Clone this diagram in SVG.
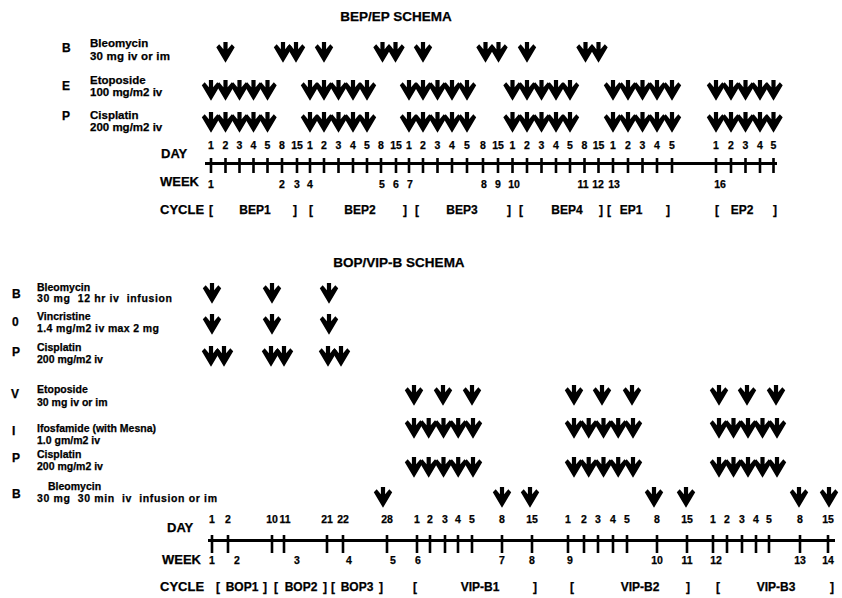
<svg xmlns="http://www.w3.org/2000/svg" width="842" height="598" viewBox="0 0 842 598">
<style>
text{font-family:"Liberation Sans",Arial,Helvetica,sans-serif;font-weight:bold;fill:#000;stroke:#000;stroke-width:0.25}
.ttl{font-size:13.5px;text-anchor:middle}
.lt{font-size:11.5px}
.lb{font-size:10.5px}
.ltr{font-size:12px}
.ax{font-size:13px}
.n{font-size:10.5px;text-anchor:middle}
.cy{font-size:12px;text-anchor:middle}
.line{stroke:#000;stroke-width:3;fill:none}
.tick{stroke:#000;stroke-width:2.6;fill:none}
</style>
<defs>
<path id="ar" d="M-2.1,0 H2.1 V7.2 L6.3,2.3 L9.2,5.3 L0,20.8 L-9.2,5.3 L-6.3,2.3 L-2.1,7.2 Z" fill="#000"/>
</defs>
<rect width="842" height="598" fill="#fff"/>

<!-- ===== BEP/EP ===== -->
<g id="title-bep"><text class="ttl" x="396" y="21">BEP/EP SCHEMA</text></g>

<g id="bep-label-B">
<text class="ltr" x="62" y="52">B</text>
<text class="lt" x="90" y="47">Bleomycin</text>
<text class="lt" x="90" y="60" textLength="80" lengthAdjust="spacing">30 mg iv or im</text>
</g>
<g id="bep-label-E">
<text class="ltr" x="62" y="90">E</text>
<text class="lt" x="90" y="84">Etoposide</text>
<text class="lt" x="90" y="96">100 mg/m2 iv</text>
</g>
<g id="bep-label-P">
<text class="ltr" x="62" y="120">P</text>
<text class="lt" x="90" y="119">Cisplatin</text>
<text class="lt" x="90" y="131">200 mg/m2 iv</text>
</g>

<g id="bep-arrows-B">
<use href="#ar" x="225.5" y="42"/>
<use href="#ar" x="283" y="42"/><use href="#ar" x="296" y="42"/>
<use href="#ar" x="324" y="42"/>
<use href="#ar" x="382.5" y="42"/><use href="#ar" x="395.5" y="42"/>
<use href="#ar" x="423" y="42"/>
<use href="#ar" x="485.5" y="42"/><use href="#ar" x="498.5" y="42"/>
<use href="#ar" x="527" y="42"/>
<use href="#ar" x="585.5" y="42"/><use href="#ar" x="598.5" y="42"/>
</g>
<g id="bep-arrows-E">
<use href="#ar" x="211" y="80"/><use href="#ar" x="225.5" y="80"/><use href="#ar" x="239.5" y="80"/><use href="#ar" x="253.5" y="80"/><use href="#ar" x="267.5" y="80"/>
<use href="#ar" x="310" y="80"/><use href="#ar" x="324" y="80"/><use href="#ar" x="338.5" y="80"/><use href="#ar" x="353" y="80"/><use href="#ar" x="367" y="80"/>
<use href="#ar" x="409" y="80"/><use href="#ar" x="423" y="80"/><use href="#ar" x="437.5" y="80"/><use href="#ar" x="452" y="80"/><use href="#ar" x="467" y="80"/>
<use href="#ar" x="512.5" y="80"/><use href="#ar" x="527" y="80"/><use href="#ar" x="541.5" y="80"/><use href="#ar" x="556" y="80"/><use href="#ar" x="570" y="80"/>
<use href="#ar" x="613" y="80"/><use href="#ar" x="628" y="80"/><use href="#ar" x="642.5" y="80"/><use href="#ar" x="657" y="80"/><use href="#ar" x="672" y="80"/>
<use href="#ar" x="716" y="80"/><use href="#ar" x="731" y="80"/><use href="#ar" x="745.5" y="80"/><use href="#ar" x="760" y="80"/><use href="#ar" x="773.5" y="80"/>
</g>
<g id="bep-arrows-P">
<use href="#ar" x="211" y="112"/><use href="#ar" x="225.5" y="112"/><use href="#ar" x="239.5" y="112"/><use href="#ar" x="253.5" y="112"/><use href="#ar" x="267.5" y="112"/>
<use href="#ar" x="310" y="112"/><use href="#ar" x="324" y="112"/><use href="#ar" x="338.5" y="112"/><use href="#ar" x="353" y="112"/><use href="#ar" x="367" y="112"/>
<use href="#ar" x="409" y="112"/><use href="#ar" x="423" y="112"/><use href="#ar" x="437.5" y="112"/><use href="#ar" x="452" y="112"/><use href="#ar" x="467" y="112"/>
<use href="#ar" x="512.5" y="112"/><use href="#ar" x="527" y="112"/><use href="#ar" x="541.5" y="112"/><use href="#ar" x="556" y="112"/><use href="#ar" x="570" y="112"/>
<use href="#ar" x="613" y="112"/><use href="#ar" x="628" y="112"/><use href="#ar" x="642.5" y="112"/><use href="#ar" x="657" y="112"/><use href="#ar" x="672" y="112"/>
<use href="#ar" x="716" y="112"/><use href="#ar" x="731" y="112"/><use href="#ar" x="745.5" y="112"/><use href="#ar" x="760" y="112"/><use href="#ar" x="773.5" y="112"/>
</g>

<g id="bep-timeline">
<text class="ax" x="161" y="158">DAY</text>
<text class="ax" x="160" y="186">WEEK</text>
<text class="ax" x="160" y="214">CYCLE</text>
<path class="line" d="M205,163.5 H777"/>
<path class="tick" d="M211,158V173 M225.5,158V173 M239.5,158V173 M253.5,158V173 M267.5,158V173 M282,158V173 M297,158V173 M310,158V173 M324,158V173 M338.5,158V173 M353,158V173 M367,158V173 M381,158V173 M396,158V173 M409,158V173 M423,158V173 M437.5,158V173 M452,158V173 M467,158V173 M483,158V173 M498,158V173 M512.5,158V173 M527,158V173 M541.5,158V173 M556,158V173 M570,158V173 M584.5,158V173 M598.5,158V173 M613,158V173 M628,158V173 M642.5,158V173 M657,158V173 M672,158V173 M716,158V173 M731,158V173 M745.5,158V173 M760,158V173 M773.5,158V173"/>
<g class="days">
<text class="n" x="211" y="149">1</text><text class="n" x="225.5" y="149">2</text><text class="n" x="239.5" y="149">3</text><text class="n" x="253.5" y="149">4</text><text class="n" x="267.5" y="149">5</text><text class="n" x="282" y="149">8</text><text class="n" x="297" y="149">15</text>
<text class="n" x="310" y="149">1</text><text class="n" x="324" y="149">2</text><text class="n" x="338.5" y="149">3</text><text class="n" x="353" y="149">4</text><text class="n" x="367" y="149">5</text><text class="n" x="381" y="149">8</text><text class="n" x="396" y="149">15</text>
<text class="n" x="409" y="149">1</text><text class="n" x="423" y="149">2</text><text class="n" x="437.5" y="149">3</text><text class="n" x="452" y="149">4</text><text class="n" x="467" y="149">5</text><text class="n" x="483" y="149">8</text><text class="n" x="498" y="149">15</text>
<text class="n" x="512.5" y="149">1</text><text class="n" x="527" y="149">2</text><text class="n" x="541.5" y="149">3</text><text class="n" x="556" y="149">4</text><text class="n" x="570" y="149">5</text><text class="n" x="584.5" y="149">8</text><text class="n" x="598.5" y="149">15</text>
<text class="n" x="613" y="149">1</text><text class="n" x="628" y="149">2</text><text class="n" x="642.5" y="149">3</text><text class="n" x="657" y="149">4</text><text class="n" x="672" y="149">5</text>
<text class="n" x="716" y="149">1</text><text class="n" x="731" y="149">2</text><text class="n" x="745.5" y="149">3</text><text class="n" x="760" y="149">4</text><text class="n" x="773.5" y="149">5</text>
</g>
<g class="weeks">
<text class="n" x="211" y="188">1</text>
<text class="n" x="282" y="188">2</text><text class="n" x="297" y="188">3</text><text class="n" x="310" y="188">4</text>
<text class="n" x="382" y="188">5</text><text class="n" x="396" y="188">6</text><text class="n" x="410" y="188">7</text>
<text class="n" x="484" y="188">8</text><text class="n" x="498" y="188">9</text><text class="n" x="514" y="188">10</text>
<text class="n" x="583" y="188">11</text><text class="n" x="598" y="188">12</text><text class="n" x="614" y="188">13</text>
<text class="n" x="720" y="188">16</text>
</g>
<g class="cycles">
<text class="cy" x="211" y="214">[</text><text class="cy" x="255" y="214">BEP1</text><text class="cy" x="295" y="214">]</text>
<text class="cy" x="311" y="214">[</text><text class="cy" x="360" y="214">BEP2</text><text class="cy" x="405" y="214">]</text>
<text class="cy" x="417" y="214">[</text><text class="cy" x="462" y="214">BEP3</text><text class="cy" x="509" y="214">]</text>
<text class="cy" x="521" y="214">[</text><text class="cy" x="567" y="214">BEP4</text><text class="cy" x="601" y="214">]</text>
<text class="cy" x="609" y="214">[</text><text class="cy" x="631" y="214">EP1</text><text class="cy" x="668" y="214">]</text>
<text class="cy" x="717" y="214">[</text><text class="cy" x="742" y="214">EP2</text><text class="cy" x="775" y="214">]</text>
</g>
</g>

<!-- ===== BOP/VIP-B ===== -->
<g id="title-bop"><text class="ttl" x="399" y="267">BOP/VIP-B SCHEMA</text></g>

<g id="bop-label-B">
<text class="ltr" x="12" y="298">B</text>
<text class="lb" x="37" y="290.5">Bleomycin</text>
<text class="lb" x="37" y="302" xml:space="preserve" textLength="135" lengthAdjust="spacing">30 mg  12 hr iv  infusion</text>
</g>
<g id="bop-label-O">
<text class="ltr" x="12" y="326">0</text>
<text class="lb" x="37" y="320">Vincristine</text>
<text class="lb" x="37" y="332" textLength="122" lengthAdjust="spacing">1.4 mg/m2 iv max 2 mg</text>
</g>
<g id="bop-label-P">
<text class="ltr" x="12" y="356">P</text>
<text class="lb" x="37" y="350.5">Cisplatin</text>
<text class="lb" x="37" y="363">200 mg/m2 iv</text>
</g>
<g id="vip-label-V">
<text class="ltr" x="11" y="398">V</text>
<text class="lb" x="37" y="393">Etoposide</text>
<text class="lb" x="37" y="406">30 mg iv or im</text>
</g>
<g id="vip-label-I">
<text class="ltr" x="12" y="435">I</text>
<text class="lb" x="37" y="431.5">Ifosfamide (with Mesna)</text>
<text class="lb" x="37" y="443.5">1.0 gm/m2 iv</text>
</g>
<g id="vip-label-P">
<text class="ltr" x="12" y="462">P</text>
<text class="lb" x="37" y="457.5">Cisplatin</text>
<text class="lb" x="37" y="470">200 mg/m2 iv</text>
</g>
<g id="vip-label-B">
<text class="ltr" x="12" y="498">B</text>
<text class="lb" x="48" y="489.5">Bleomycin</text>
<text class="lb" x="37" y="501.5" xml:space="preserve" textLength="180" lengthAdjust="spacing">30 mg  30 min  iv  infusion or im</text>
</g>

<g id="bop-arrows-B">
<use href="#ar" x="212" y="283"/><use href="#ar" x="272" y="283"/><use href="#ar" x="329" y="283"/>
</g>
<g id="bop-arrows-O">
<use href="#ar" x="212" y="314"/><use href="#ar" x="272" y="314"/><use href="#ar" x="329" y="314"/>
</g>
<g id="bop-arrows-P">
<use href="#ar" x="211" y="346"/><use href="#ar" x="224" y="346"/>
<use href="#ar" x="271" y="346"/><use href="#ar" x="284" y="346"/>
<use href="#ar" x="328" y="346"/><use href="#ar" x="341" y="346"/>
</g>
<g id="vip-arrows-V">
<use href="#ar" x="414" y="385"/><use href="#ar" x="443" y="385"/><use href="#ar" x="472" y="385"/>
<use href="#ar" x="574" y="385"/><use href="#ar" x="602" y="385"/><use href="#ar" x="632" y="385"/>
<use href="#ar" x="719" y="385"/><use href="#ar" x="747" y="385"/><use href="#ar" x="776" y="385"/>
</g>
<g id="vip-arrows-I">
<use href="#ar" x="414" y="418"/><use href="#ar" x="428.7" y="418"/><use href="#ar" x="443.5" y="418"/><use href="#ar" x="458.2" y="418"/><use href="#ar" x="473" y="418"/>
<use href="#ar" x="574" y="418"/><use href="#ar" x="588.7" y="418"/><use href="#ar" x="603.5" y="418"/><use href="#ar" x="618.2" y="418"/><use href="#ar" x="633" y="418"/>
<use href="#ar" x="719" y="418"/><use href="#ar" x="733.5" y="418"/><use href="#ar" x="748" y="418"/><use href="#ar" x="762.5" y="418"/><use href="#ar" x="777" y="418"/>
</g>
<g id="vip-arrows-P">
<use href="#ar" x="414" y="457"/><use href="#ar" x="428.7" y="457"/><use href="#ar" x="443.5" y="457"/><use href="#ar" x="458.2" y="457"/><use href="#ar" x="473" y="457"/>
<use href="#ar" x="574" y="457"/><use href="#ar" x="588.7" y="457"/><use href="#ar" x="603.5" y="457"/><use href="#ar" x="618.2" y="457"/><use href="#ar" x="633" y="457"/>
<use href="#ar" x="719" y="457"/><use href="#ar" x="733.5" y="457"/><use href="#ar" x="748" y="457"/><use href="#ar" x="762.5" y="457"/><use href="#ar" x="777" y="457"/>
</g>
<g id="vip-arrows-B">
<use href="#ar" x="383" y="487"/><use href="#ar" x="502" y="487"/><use href="#ar" x="530" y="487"/>
<use href="#ar" x="654" y="487"/><use href="#ar" x="686" y="487"/>
<use href="#ar" x="799" y="487"/><use href="#ar" x="829" y="487"/>
</g>

<g id="bop-timeline">
<text class="ax" x="167" y="532">DAY</text>
<text class="ax" x="162" y="564">WEEK</text>
<text class="ax" x="160" y="591">CYCLE</text>
<path class="line" d="M208,540.5 H835"/>
<path class="tick" d="M212,535V553 M228,535V553 M272,535V553 M284,535V553 M327,535V553 M343,535V553 M387,535V553 M417,535V553 M430,535V553 M445,535V553 M458,535V553 M472,535V553 M502,535V553 M532,535V553 M568,535V553 M584,535V553 M598,535V553 M613,535V553 M627,535V553 M657,535V553 M687,535V553 M713,535V553 M727,535V553 M742,535V553 M756,535V553 M769,535V553 M800,535V553 M828,535V553"/>
<g class="days">
<text class="n" x="212" y="523">1</text><text class="n" x="228" y="523">2</text><text class="n" x="272" y="523">10</text><text class="n" x="285" y="523">11</text><text class="n" x="327" y="523">21</text><text class="n" x="343" y="523">22</text><text class="n" x="387" y="523">28</text>
<text class="n" x="417" y="523">1</text><text class="n" x="430" y="523">2</text><text class="n" x="445" y="523">3</text><text class="n" x="458" y="523">4</text><text class="n" x="472" y="523">5</text><text class="n" x="502" y="523">8</text><text class="n" x="532" y="523">15</text>
<text class="n" x="568" y="523">1</text><text class="n" x="584" y="523">2</text><text class="n" x="598" y="523">3</text><text class="n" x="613" y="523">4</text><text class="n" x="627" y="523">5</text><text class="n" x="657" y="523">8</text><text class="n" x="687" y="523">15</text>
<text class="n" x="713" y="523">1</text><text class="n" x="727" y="523">2</text><text class="n" x="742" y="523">3</text><text class="n" x="756" y="523">4</text><text class="n" x="769" y="523">5</text><text class="n" x="800" y="523">8</text><text class="n" x="828" y="523">15</text>
</g>
<g class="weeks">
<text class="n" x="212" y="564">1</text><text class="n" x="237" y="564">2</text><text class="n" x="297" y="564">3</text><text class="n" x="349" y="564">4</text><text class="n" x="393" y="564">5</text><text class="n" x="418" y="564">6</text>
<text class="n" x="502" y="564">7</text><text class="n" x="532" y="564">8</text><text class="n" x="570" y="564">9</text><text class="n" x="657" y="564">10</text><text class="n" x="687" y="564">11</text><text class="n" x="716" y="564">12</text><text class="n" x="800" y="564">13</text><text class="n" x="828" y="564">14</text>
</g>
<g class="cycles">
<text class="cy" x="218" y="591">[</text><text class="cy" x="242" y="591">BOP1</text><text class="cy" x="265" y="591">]</text>
<text class="cy" x="276" y="591">[</text><text class="cy" x="301" y="591">BOP2</text><text class="cy" x="325" y="591">]</text>
<text class="cy" x="333" y="591">[</text><text class="cy" x="357" y="591">BOP3</text><text class="cy" x="381" y="591">]</text>
<text class="cy" x="415" y="591">[</text><text class="cy" x="480" y="591">VIP-B1</text><text class="cy" x="535" y="591">]</text>
<text class="cy" x="572" y="591">[</text><text class="cy" x="640" y="591">VIP-B2</text><text class="cy" x="688" y="591">]</text>
<text class="cy" x="718" y="591">[</text><text class="cy" x="776" y="591">VIP-B3</text><text class="cy" x="832" y="591">]</text>
</g>
</g>
</svg>
